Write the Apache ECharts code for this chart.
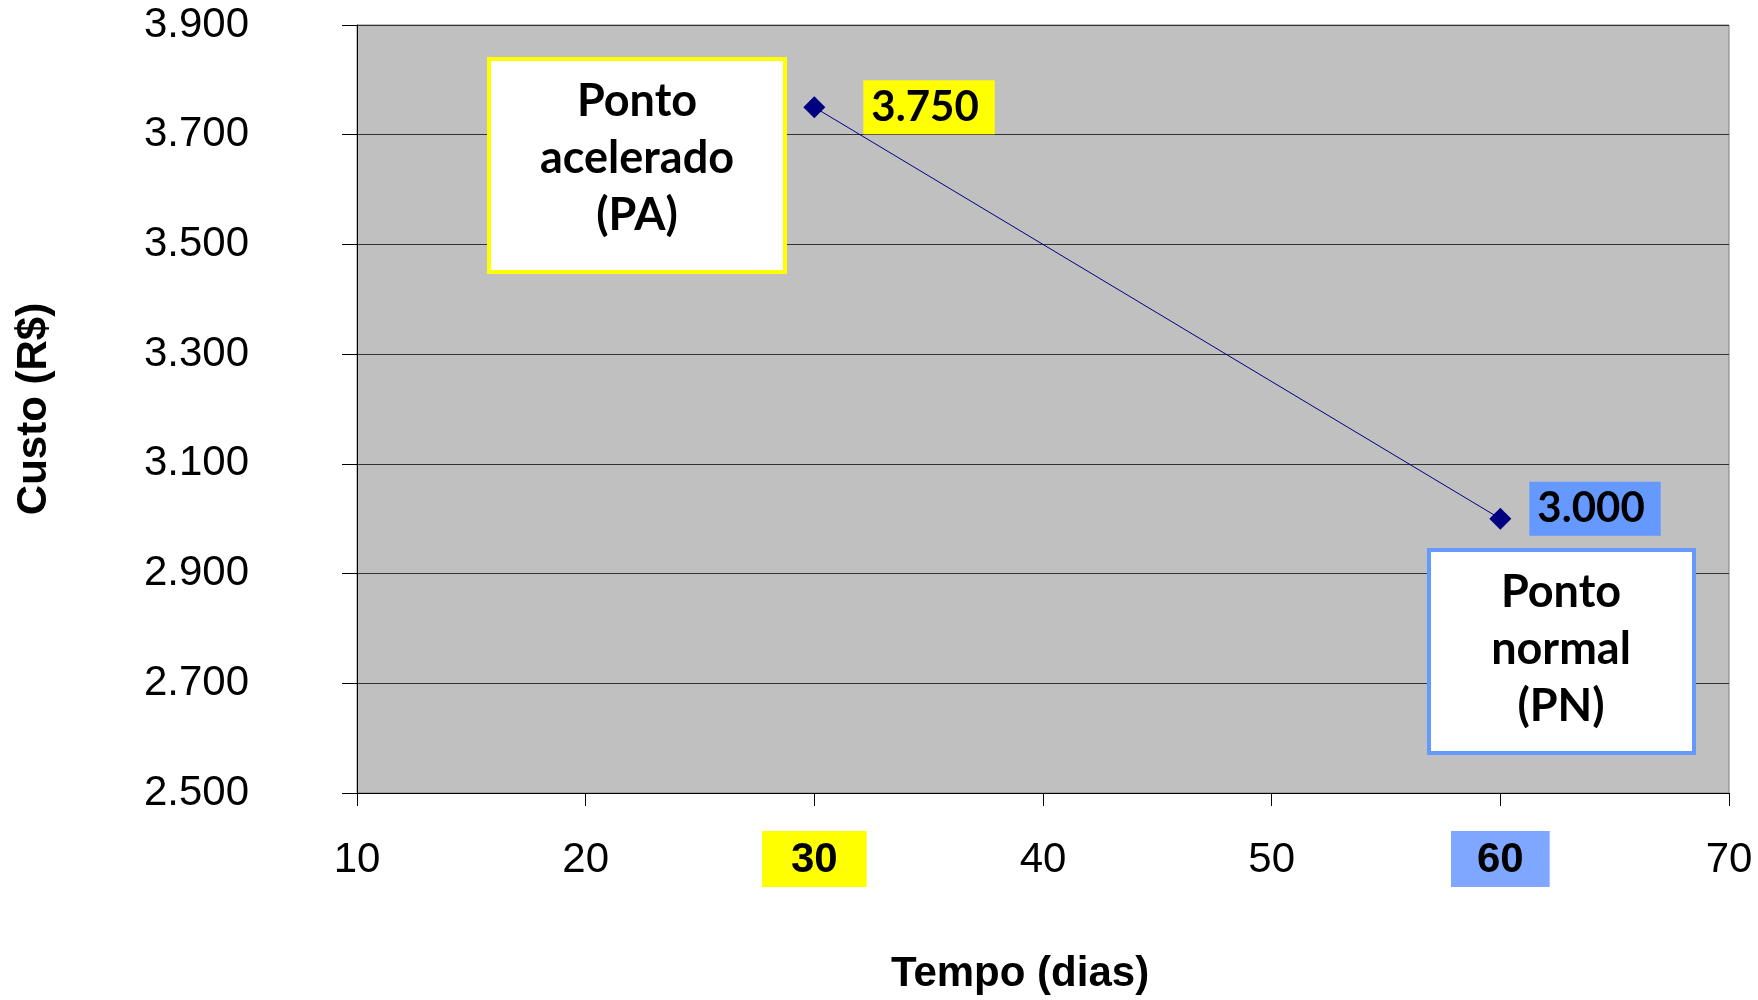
<!DOCTYPE html>
<html>
<head>
<meta charset="utf-8">
<script src="https://cdn.jsdelivr.net/npm/echarts@6/dist/echarts.min.js"></script>
<style>
  html, body { margin: 0; padding: 0; background: #fff; }
  #chart { width: 1758px; height: 1000px; }
</style>
</head>
<body>
<div id="chart"></div>
<script>
// dados
var tempoDias = [30, 60];
var custo = [3750, 3000];
var pontoNomes = ['Ponto\nacelerado\n(PA)', 'Ponto\nnormal\n(PN)'];
var xTicks = [10, 20, 30, 40, 50, 60, 70];
var yTicks = [2500, 2700, 2900, 3100, 3300, 3500, 3700, 3900];

var FONT = "'Liberation Sans', Arial, sans-serif";
var FONT_BOX = "Lato, 'Open Sans', sans-serif";
var AMARELO = '#FFFF00';
var AZUL = '#6699FF';

// formato pt-BR: 3900 -> 3.900
function fmtMil(v) {
    var s = String(Math.round(v % 1000));
    while (s.length < 3) s = '0' + s;
    return Math.floor(v / 1000) + '.' + s;
}

var chart = echarts.init(document.getElementById('chart'));

var labelCfg = [
    { distance: 38, offset: [0, 0], backgroundColor: AMARELO },
    { distance: 18, offset: [0, -10], backgroundColor: AZUL }
];

var seriesData = tempoDias.map(function (t, i) {
    return {
        value: [t, custo[i]],
        label: {
            show: true,
            position: 'right',
            distance: labelCfg[i].distance,
            offset: labelCfg[i].offset,
            formatter: function (p) { return fmtMil(p.value[1]); },
            fontFamily: FONT_BOX,
            fontWeight: 'bold',
            fontSize: 42,
            color: '#000',
            backgroundColor: labelCfg[i].backgroundColor,
            padding: [7, 16, 5, 8]
        }
    };
});

chart.setOption({
    animation: false,
    grid: {
        left: 357,
        top: 25,
        right: 29,
        bottom: 207,
        show: true,
        backgroundColor: '#C0C0C0',
        borderColor: '#808080',
        borderWidth: 1,
        containLabel: false,
        outerBoundsMode: 'none'
    },
    xAxis: {
        type: 'value',
        min: xTicks[0],
        max: xTicks[xTicks.length - 1],
        interval: 10,
        name: 'Tempo (dias)',
        nameLocation: 'middle',
        nameGap: 160,
        nameTextStyle: {
            fontFamily: FONT, fontWeight: 'bold', fontSize: 42, color: '#000',
            padding: [0, 46, 0, 0]
        },
        axisLine: { show: true, lineStyle: { color: '#000', width: 1 } },
        axisTick: { show: true, length: 13, lineStyle: { color: '#000' } },
        splitLine: { show: false },
        axisLabel: {
            margin: 38,
            formatter: function (v) {
                if (v === tempoDias[0]) return '{a|' + v + '}';
                if (v === tempoDias[1]) return '{b|' + v + '}';
                return '{n|' + v + '}';
            },
            rich: {
                n: { fontFamily: FONT, fontSize: 42, color: '#000', padding: [8, 20, 6, 20] },
                a: { fontFamily: FONT, fontSize: 42, fontWeight: 'bold', color: '#000',
                     backgroundColor: AMARELO, padding: [8, 29, 6, 29] },
                b: { fontFamily: FONT, fontSize: 42, fontWeight: 'bold', color: '#000',
                     backgroundColor: '#7FA7FF', padding: [8, 26, 6, 26] }
            }
        }
    },
    yAxis: {
        type: 'value',
        min: yTicks[0],
        max: yTicks[yTicks.length - 1],
        interval: 200,
        name: 'Custo (R$)',
        nameLocation: 'middle',
        nameGap: 302,
        nameTextStyle: { fontFamily: FONT, fontWeight: 'bold', fontSize: 42, color: '#000' },
        axisLine: { show: true, lineStyle: { color: '#000', width: 1 } },
        axisTick: { show: true, length: 15, lineStyle: { color: '#000' } },
        splitLine: { show: true, lineStyle: { color: '#333', width: 1 } },
        axisLabel: {
            margin: 108,
            fontFamily: FONT,
            fontSize: 42,
            color: '#000',
            formatter: fmtMil
        }
    },
    series: [{
        type: 'line',
        data: seriesData,
        symbol: 'diamond',
        symbolSize: [22, 22],
        lineStyle: { color: '#000080', width: 1 },
        itemStyle: { color: '#000080' },
        z: 5
    }],
    // caixas de anotação
    graphic: [
        {
            type: 'group',
            z: 100,
            children: [
                { type: 'rect', z: 100, shape: { x: 489, y: 59, width: 296, height: 213 },
                  style: { fill: '#fff', stroke: AMARELO, lineWidth: 4 } },
                { type: 'text', z: 101, x: 637, y: 158,
                  style: { text: pontoNomes[0], fontFamily: FONT_BOX, fontWeight: 'bold',
                           fontSize: 45, lineHeight: 57, fill: '#000',
                           align: 'center', verticalAlign: 'middle' } }
            ]
        },
        {
            type: 'group',
            z: 100,
            children: [
                { type: 'rect', z: 100, shape: { x: 1429, y: 550, width: 265, height: 203 },
                  style: { fill: '#fff', stroke: AZUL, lineWidth: 4 } },
                { type: 'text', z: 101, x: 1561, y: 649,
                  style: { text: pontoNomes[1], fontFamily: FONT_BOX, fontWeight: 'bold',
                           fontSize: 45, lineHeight: 57, fill: '#000',
                           align: 'center', verticalAlign: 'middle' } }
            ]
        }
    ]
});
</script>
</body>
</html>
